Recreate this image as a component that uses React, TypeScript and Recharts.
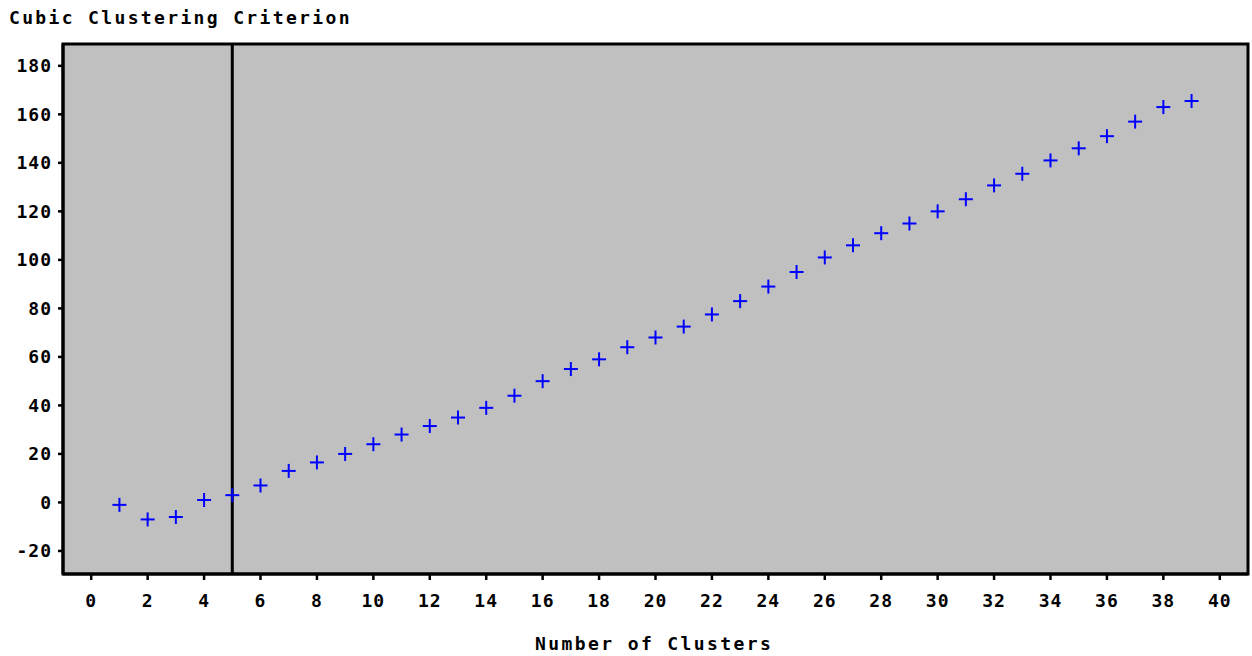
import {
  ReferenceArea,
  ReferenceLine,
  Scatter,
  ScatterChart,
  XAxis,
  YAxis,
  CartesianGrid,
} from 'recharts'

// number of clusters and the cubic clustering criterion
const clusters = [
  1, 2, 3, 4, 5, 6, 7, 8, 9, 10, 11, 12, 13, 14, 15, 16, 17, 18, 19, 20,
  21, 22, 23, 24, 25, 26, 27, 28, 29, 30, 31, 32, 33, 34, 35, 36, 37, 38, 39,
]
const ccc = [
  -1, -7, -6, 1, 3, 7, 13, 16.5, 20, 24, 28, 31.5, 35, 39, 44, 50, 55, 59, 64, 68,
  72.5, 77.5, 83, 89, 95, 101, 106, 111, 115, 120, 125, 130.7, 135.5, 141, 146,
  151, 157, 163, 165.5,
]
const xTicks = [0, 2, 4, 6, 8, 10, 12, 14, 16, 18, 20, 22, 24, 26, 28, 30, 32, 34, 36, 38, 40]
const yTicks = [-20, 0, 20, 40, 60, 80, 100, 120, 140, 160, 180]
const chosenClusters = 5

const xDomain: [number, number] = [-1, 41]
const yDomain: [number, number] = [-29.5, 189]

const font = '"DejaVu Sans Mono", monospace'
const tickStyle = {
  fill: '#000',
  fontSize: 18,
  fontWeight: 700,
  fontFamily: font,
  letterSpacing: 1,
}

const data = clusters.map((n, i) => ({ n, ccc: ccc[i] }))

function Plus(props: any) {
  const { cx, cy } = props
  if (cx == null || cy == null) return null
  return (
    <g>
      <line x1={cx - 7} x2={cx + 7} y1={cy} y2={cy} stroke="#0000ff" strokeWidth={2} />
      <line x1={cx} x2={cx} y1={cy - 7} y2={cy + 7} stroke="#0000ff" strokeWidth={2} />
    </g>
  )
}

export default function App() {
  return (
    <div
      style={{
        position: 'absolute',
        left: 0,
        top: 0,
        width: 1252,
        height: 656,
        background: '#fff',
      }}
    >
      <div
        style={{
          position: 'absolute',
          left: 9,
          top: 7,
          fontFamily: font,
          fontWeight: 700,
          fontSize: 18,
          letterSpacing: 2.35,
          color: '#000',
          whiteSpace: 'nowrap',
        }}
      >
        Cubic Clustering Criterion
      </div>
      <div
        style={{
          position: 'absolute',
          left: 535,
          top: 633,
          fontFamily: font,
          fontWeight: 700,
          fontSize: 18,
          letterSpacing: 2.4,
          color: '#000',
          whiteSpace: 'nowrap',
        }}
      >
        Number of Clusters
      </div>
      <ScatterChart
        width={1252}
        height={656}
        margin={{ top: 44, right: 4, bottom: 32, left: 0 }}
      >
        <CartesianGrid fill="#c0c0c0" stroke="none" />
        <XAxis
          dataKey="n"
          type="number"
          domain={xDomain}
          ticks={xTicks}
          interval={0}
          tick={tickStyle}
          tickSize={6}
          tickMargin={14}
          stroke="#000"
          axisLine={{ stroke: '#000', strokeWidth: 3 }}
          tickLine={{ stroke: '#000', strokeWidth: 2.5 }}
          height={50}
          allowDataOverflow
        />
        <YAxis
          dataKey="ccc"
          type="number"
          domain={yDomain}
          ticks={yTicks}
          interval={0}
          tick={tickStyle}
          tickSize={5}
          tickMargin={6}
          axisLine={{ stroke: '#000', strokeWidth: 3 }}
          tickLine={{ stroke: '#000', strokeWidth: 2.5 }}
          width={63}
          allowDataOverflow
        />
        <ReferenceArea
          x1={xDomain[0]}
          x2={xDomain[1]}
          y1={yDomain[0]}
          y2={yDomain[1]}
          fill="none"
          stroke="#000"
          strokeWidth={3}
        />
        <ReferenceLine x={chosenClusters} stroke="#000" strokeWidth={3} />
        <Scatter data={data} shape={<Plus />} isAnimationActive={false} />
      </ScatterChart>
    </div>
  )
}
